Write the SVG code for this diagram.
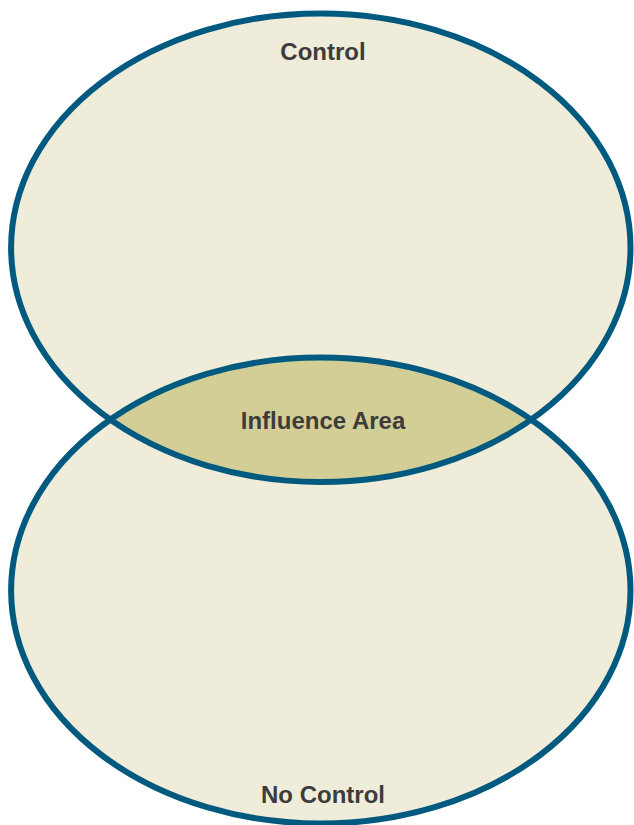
<svg xmlns="http://www.w3.org/2000/svg" width="634" height="825" viewBox="0 0 634 825">
  <style>
    .fill { fill: #efecd9; stroke: none; }
    .lens { fill: #d3ce96; stroke: none; }
    .ring { fill: none; stroke: #005a80; stroke-width: 6; }
    .label { font-family: "Liberation Sans", Arial, sans-serif; font-weight: bold; font-size: 24px; fill: #3c3c3c; text-anchor: middle; }
  </style>
  <defs>
    <clipPath id="topClip">
      <ellipse cx="320.8" cy="247.7" rx="309.7" ry="234.3"/>
    </clipPath>
  </defs>
  <rect width="634" height="825" fill="#ffffff"/>
  <g id="control">
    <ellipse class="fill" cx="320.8" cy="247.7" rx="309.7" ry="234.3"/>
  </g>
  <g id="no-control">
    <ellipse class="fill" cx="320.8" cy="590.5" rx="309.7" ry="233"/>
  </g>
  <g id="influence-area">
    <ellipse class="lens" cx="320.8" cy="590.5" rx="309.7" ry="233" clip-path="url(#topClip)"/>
  </g>
  <g id="outlines">
    <ellipse class="ring" cx="320.8" cy="247.7" rx="309.7" ry="234.3"/>
    <ellipse class="ring" cx="320.8" cy="590.5" rx="309.7" ry="233"/>
  </g>
  <g id="labels">
    <text class="label" x="323" y="60">Control</text>
    <text class="label" x="323" y="429">Influence Area</text>
    <text class="label" x="323" y="803">No Control</text>
  </g>
  <g id="connectors"/>
</svg>
